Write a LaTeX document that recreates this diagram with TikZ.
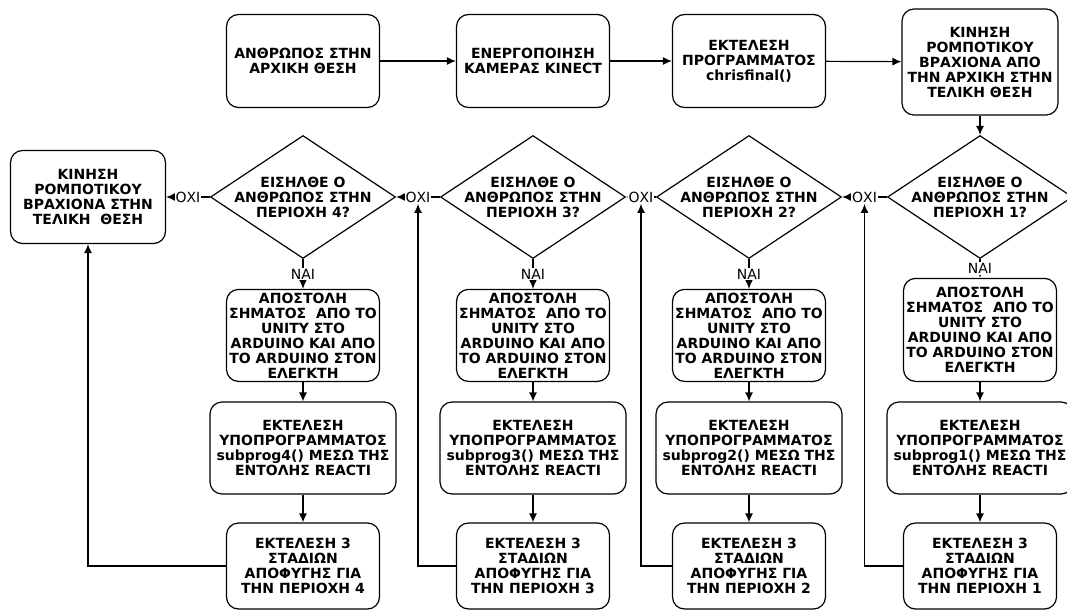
\documentclass[tikz,border=0pt]{standalone}
\usepackage{fontspec}
\setmainfont{DejaVu Sans}
\usetikzlibrary{shapes.geometric,arrows.meta,positioning}

\tikzset{
  box/.style={draw, rounded corners=12pt, line width=1.2pt, align=center,
    inner sep=0pt, minimum width=153pt, minimum height=93pt},
  decision/.style={draw, diamond, line width=1.2pt, inner sep=0pt,
    minimum width=185pt, minimum height=123pt},
  lbl/.style={fill=white, inner sep=1pt, font=\fontsize{14}{15}\selectfont},
  line/.style={draw, line width=1.2pt, ->},
}

\begin{document}
\begin{tikzpicture}[x=1pt, y=-1pt, font=\bfseries\fontsize{14}{15}\selectfont,
    >={Latex[length=9pt,width=8pt]}]
  \useasboundingbox (0,0) rectangle (1067,613);
  % top row
  \node[box] (start) at (303,61) {ΑΝΘΡΩΠΟΣ ΣΤΗΝ\\ΑΡΧΙΚΗ ΘΕΣΗ};
  \node[box] (kinect) at (533,61) {ΕΝΕΡΓΟΠΟΙΗΣΗ\\ΚΑΜΕΡΑΣ KINECT};
  \node[box] (prog) at (749,61) {ΕΚΤΕΛΕΣΗ\\ΠΡΟΓΡΑΜΜΑΤΟΣ\\chrisfinal()};
  \node[box, minimum width=156pt, minimum height=106pt] (move) at (980,62)
    {ΚΙΝΗΣΗ\\ΡΟΜΠΟΤΙΚΟΥ\\ΒΡΑΧΙΟΝΑ ΑΠΟ\\ΤΗΝ ΑΡΧΙΚΗ ΣΤΗΝ\\ΤΕΛΙΚΗ ΘΕΣΗ};
  \node[box, minimum width=155pt] (final) at (88,197)
    {ΚΙΝΗΣΗ\\ΡΟΜΠΟΤΙΚΟΥ\\ΒΡΑΧΙΟΝΑ ΣΤΗΝ\\ΤΕΛΙΚΗ \ ΘΕΣΗ};
  \draw[line] (start) -- (kinect);
  \draw[line] (kinect) -- (prog);
  \draw[line] (prog) -- (move);
  % one column per area
  \foreach \i/\x/\h in {4/303/92,3/533/92,2/749/92,1/980/103}{
    \node[decision, label={[align=center]center:{ΕΙΣΗΛΘΕ Ο\\ΑΝΘΡΩΠΟΣ ΣΤΗΝ\\ΠΕΡΙΟΧΗ \i?}}]
      (q\i) at (\x,197) {};
    \node[box, anchor=south, minimum height=\h pt] (send\i) at (\x,382)
      {ΑΠΟΣΤΟΛΗ\\ΣΗΜΑΤΟΣ \ ΑΠΟ ΤΟ\\UNITY ΣΤΟ\\ARDUINO ΚΑΙ ΑΠΟ\\ΤΟ ARDUINO ΣΤΟΝ\\ΕΛΕΓΚΤΗ};
    \node[box, minimum width=186pt, minimum height=92pt] (sub\i) at (\x,448)
      {ΕΚΤΕΛΕΣΗ\\ΥΠΟΠΡΟΓΡΑΜΜΑΤΟΣ\\subprog\i() ΜΕΣΩ ΤΗΣ\\ΕΝΤΟΛΗΣ REACTI};
    \node[box, minimum height=86pt] (avoid\i) at (\x,566)
      {ΕΚΤΕΛΕΣΗ 3\\ΣΤΑΔΙΩΝ\\ΑΠΟΦΥΓΗΣ ΓΙΑ\\ΤΗΝ ΠΕΡΙΟΧΗ \i};
    \draw[line] (q\i.south) -- node[lbl] {ΝΑΙ} (send\i.north);
    \draw[line] (send\i) -- (sub\i);
    \draw[line] (sub\i) -- (avoid\i);
  }
  \draw[line] (move) -- (q1);
  % the "no" branches
  \draw[line] (q1.west) -- node[lbl] (no12) {ΟΧΙ} (q2.east);
  \draw[line] (q2.west) -- node[lbl] (no23) {ΟΧΙ} (q3.east);
  \draw[line] (q3.west) -- node[lbl] (no34) {ΟΧΙ} (q4.east);
  \draw[line] (q4.west) -- node[lbl] (no4) {ΟΧΙ} (final.east);
  % back from each area
  \foreach \i/\t in {4/final,3/no34,2/no23,1/no12}
    \draw[line] (avoid\i.west) -| (\t.south);
\end{tikzpicture}
\end{document}
